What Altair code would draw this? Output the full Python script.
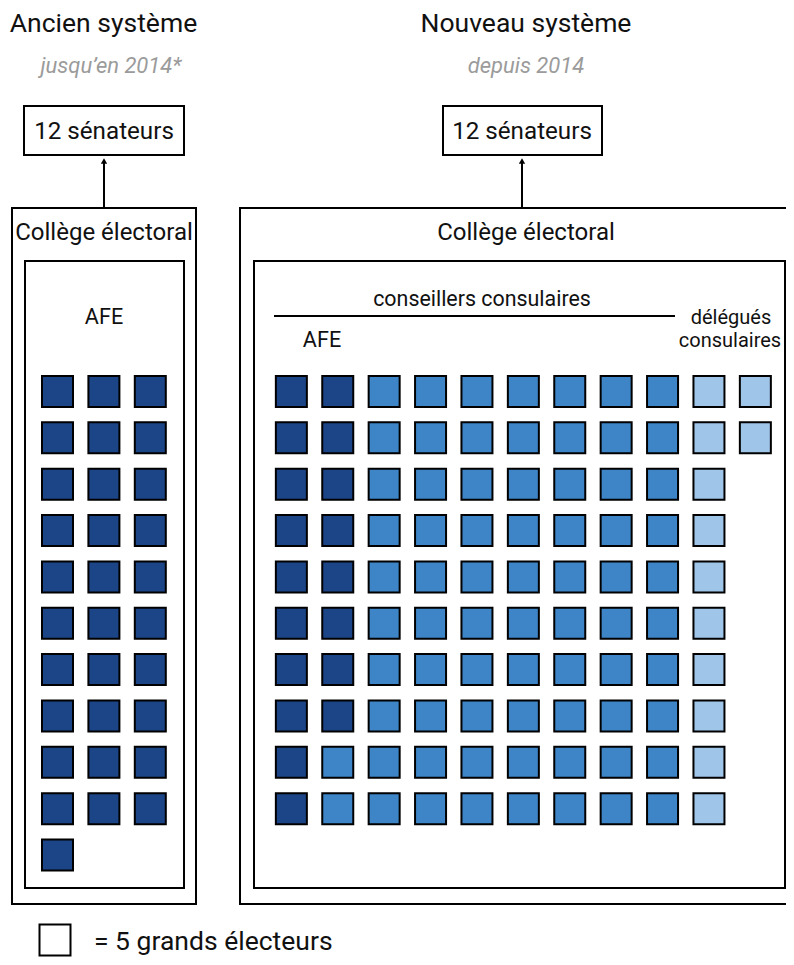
import altair as alt
import pandas as pd

# ---- data (1 square = 5 grands électeurs) ----
categories = ["AFE (ancien)", "AFE", "conseillers consulaires", "délégués consulaires"]
squares_old = [31, 0, 0, 0]   # ancien système
squares_new = [0, 18, 72, 12]  # nouveau système
colors = ["#1c4587", "#1c4587", "#3d85c6", "#9fc5e8"]

OLD_COLS = 3
NEW_ROWS = 10
NEW_OFFSET = 5.04  # column gap between the two panels (in column units)

rows = []
i = 0
for cat, n in zip(categories, squares_old):
    for _ in range(n):
        rows.append({"systeme": "ancien", "cat": cat, "col": i % OLD_COLS, "row": i // OLD_COLS})
        i += 1
i = 0
for cat, n in zip(categories, squares_new):
    for _ in range(n):
        rows.append({"systeme": "nouveau", "cat": cat, "col": i // NEW_ROWS + NEW_OFFSET, "row": i % NEW_ROWS})
        i += 1
df = pd.DataFrame(rows)

# ---- layout ----
W, H = 778, 949
M = 8  # page margin
STEP_X, STEP_Y = 46.4, 46.35
x0 = -(57.5 - M) / STEP_X
y0 = -(391.5 - M) / STEP_Y
xs = alt.Scale(domain=[x0, x0 + W / STEP_X], nice=False, zero=False)
ys = alt.Scale(domain=[y0, y0 + H / STEP_Y], nice=False, zero=False, reverse=True)

FONT = "Roboto"
one = pd.DataFrame({"k": [0]})


def px(v):
    return alt.value(v - M)


def text(t, x, y, size, align="center", color="#111111", style="normal"):
    return alt.Chart(one).mark_text(
        text=t, font=FONT, fontSize=size, align=align, baseline="alphabetic",
        color=color, fontStyle=style
    ).encode(x=px(x), y=px(y))


def box(x1, x2, y1, y2, sw=2):
    return alt.Chart(one).mark_rect(
        fill="white", fillOpacity=0, stroke="black", strokeWidth=sw
    ).encode(x=px(x1), x2=px(x2), y=px(y1), y2=px(y2))


def hline(x1, x2, y, sw=2):
    return alt.Chart(one).mark_rule(color="black", strokeWidth=sw).encode(
        x=px(x1), x2=px(x2), y=px(y))


def arrow(x, y_from, y_to):
    line = alt.Chart(one).mark_rule(color="black", strokeWidth=2).encode(
        x=px(x), y=px(y_from), y2=px(y_to + 4))
    head = alt.Chart(one).mark_point(
        shape="triangle-up", filled=True, color="black", size=40, opacity=1
    ).encode(x=px(x), y=px(y_to + 4))
    return line + head


GREY = "#9b9b9b"

layers = [
    # boxes
    box(12, 196, 208, 904),
    box(25, 184, 261, 888),
    box(240, 830, 208, 904),
    box(254, 785, 261, 888),
    box(24, 184, 106, 155),
    box(443, 602, 106, 155),
    arrow(104, 207, 157),
    arrow(522, 207, 157),
    hline(274, 675, 316),
    # titles
    text("Ancien système", 103.5, 32, 26.5),
    text("jusqu’en 2014*", 111, 73, 22, color=GREY, style="italic"),
    text("Nouveau système", 526, 32, 26.5),
    text("depuis 2014", 526, 73, 22, color=GREY, style="italic"),
    text("12 sénateurs", 104, 139, 24.2),
    text("12 sénateurs", 522, 139, 24.2),
    text("Collège électoral", 104, 240, 24),
    text("Collège électoral", 526, 240, 24),
    text("AFE", 104, 324, 21.6),
    text("conseillers consulaires", 482, 306, 21.4),
    text("AFE", 322, 347, 21.6),
    text("délégués", 731, 324, 20),
    text("consulaires", 730, 347, 20),
    # legend
    alt.Chart(one).mark_square(size=961, fill="white", stroke="black", strokeWidth=2, opacity=1).encode(
        x=px(55), y=px(940)),
    text("= 5 grands électeurs", 94, 950, 26.5, align="left"),
]

squares = alt.Chart(df).mark_square(size=961, stroke="black", strokeWidth=2, opacity=1).encode(
    x=alt.X("col:Q", scale=xs, axis=None),
    y=alt.Y("row:Q", scale=ys, axis=None),
    fill=alt.Fill("cat:N", scale=alt.Scale(domain=categories, range=colors), legend=None),
)

chart = alt.layer(*layers, squares).properties(
    width=W, height=H, padding=0, autosize=alt.AutoSizeParams(type="none")
).configure_view(stroke=None)

chart.save("out.html", embed_options={"renderer": "svg", "actions": False})
